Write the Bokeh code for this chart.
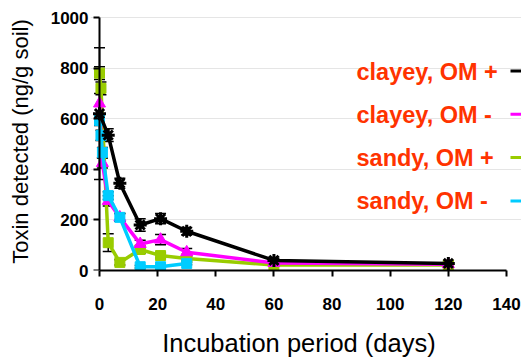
from bokeh.plotting import figure
from bokeh.models import (Range1d, Label, FixedTicker, ColumnDataSource, Whisker,
                          TeeHead, LinearAxis)
from bokeh.embed import file_html
from bokeh.resources import INLINE

# ---------------- data ----------------
clayey_om_plus_days = [0, 3, 7, 14, 21, 30, 60, 120]
clayey_om_plus_toxin = [620, 535, 345, 180, 205, 155, 40, 28]
clayey_om_plus_err = [260, 25, 20, 25, 20, 15, 8, 5]

clayey_om_minus_days = [0, 1, 3, 7, 14, 21, 30, 60, 120]
clayey_om_minus_toxin = [660, 425, 275, 210, 105, 122, 72, 30, 25]
clayey_om_minus_err = [40, 20, 20, 15, 15, 20, 15, 8, 5]

sandy_om_plus_days = [0, 0.5, 3, 7, 14, 21, 30, 60, 120]
sandy_om_plus_toxin = [780, 720, 110, 32, 83, 59, 47, 22, 22]
sandy_om_plus_err = [25, 25, 35, 10, 15, 10, 8, 5, 5]

sandy_om_minus_days = [0, 0.5, 1, 3, 7, 14, 21, 30]
sandy_om_minus_toxin = [593, 534, 466, 296, 210, 15, 15, 28]
sandy_om_minus_err = [20, 20, 20, 15, 15, 5, 5, 5]

legend_labels = ["clayey, OM +", "clayey, OM -", "sandy, OM +", "sandy, OM -"]
x_title = "Incubation period (days)"
y_title = "Toxin detected (ng/g soil)"
x_ticks = [0, 20, 40, 60, 80, 100, 120, 140]
y_ticks = [0, 200, 400, 600, 800, 1000]

# ---------------- layout constants ----------------
W, H = 521, 360
AXIS_PX = 99                  # pixel column of the y axis (day 0)
FRAME_LEFT = 90               # frame starts a little left so day-0 marks are whole
FRAME_TOP = 12
TOP_PX = 17                   # pixel row of toxin = 1000
BOTTOM_BORDER = 90
X_MAX_AXIS = 140
Y_MAX_AXIS = 1000
X_PX = 407 / 140.0            # pixels per day
X_START = -(AXIS_PX - FRAME_LEFT) / X_PX
X_END = (W - AXIS_PX) / X_PX
FRAME_BOTTOM_PX = H - BOTTOM_BORDER
Y_PX = (FRAME_BOTTOM_PX - TOP_PX) / float(Y_MAX_AXIS)
Y_END = (FRAME_BOTTOM_PX - FRAME_TOP) / Y_PX
NBSP = "\u00a0"

def px2x(px):
    return (px - AXIS_PX) / X_PX

def py2y(py):
    return (FRAME_BOTTOM_PX - py) / Y_PX

FONT = "Liberation Sans"
LEG_COLOR = "#FF3300"

p = figure(width=W, height=H, output_backend="svg", toolbar_location=None,
           x_range=Range1d(X_START, X_END), y_range=Range1d(0, Y_END),
           y_axis_location=None,
           min_border_left=FRAME_LEFT, min_border_right=0, min_border_top=FRAME_TOP,
           min_border_bottom=BOTTOM_BORDER)
p.outline_line_color = None
p.xgrid.visible = False
p.background_fill_color = "white"
p.border_fill_color = "white"

def style_axis(ax):
    ax.axis_line_width = 2
    ax.axis_line_color = "black"
    ax.major_tick_line_width = 2
    ax.major_tick_line_color = "black"
    ax.major_tick_in = 0
    ax.major_tick_out = 6
    ax.minor_tick_line_color = None
    ax.major_label_text_font = FONT
    ax.major_label_text_font_style = "bold"
    ax.major_label_text_font_size = "17px"
    ax.major_label_text_color = "black"
    ax.axis_label_text_font = FONT
    ax.axis_label_text_font_style = "normal"
    ax.axis_label_text_color = "black"

# x axis (title padded on the right so it sits centred under the axis line)
style_axis(p.xaxis[0])
p.xaxis.ticker = FixedTicker(ticks=x_ticks)
p.xaxis.bounds = (0, X_MAX_AXIS)
p.xaxis.major_label_standoff = 21
p.xaxis.axis_label = x_title + NBSP * 2
p.xaxis.axis_label_text_font_size = "25.5px"
p.xaxis.axis_label_standoff = 16

# y axis rule + tick marks at day 0 (tick marks drawn as minor ticks -> no labels)
y_rule = LinearAxis(ticker=FixedTicker(ticks=[], minor_ticks=y_ticks),
                    bounds=(0, Y_MAX_AXIS), fixed_location=0)
style_axis(y_rule)
y_rule.minor_tick_line_color = "black"
y_rule.minor_tick_line_width = 2
y_rule.minor_tick_in = 0
y_rule.minor_tick_out = 6
y_rule.major_label_standoff = 0
p.add_layout(y_rule, "left")

# y tick labels + title (no rule)
y_lab = LinearAxis(ticker=FixedTicker(ticks=y_ticks), bounds=(0, Y_MAX_AXIS),
                   axis_label=y_title)
style_axis(y_lab)
y_lab.axis_line_color = None
y_lab.major_tick_line_color = None
y_lab.major_tick_out = 0
y_lab.major_label_standoff = 2
y_lab.axis_label_text_font_size = "22px"
y_lab.axis_label_standoff = 15
p.add_layout(y_lab, "left")

series = [
    (sandy_om_plus_days, sandy_om_plus_toxin, sandy_om_plus_err, "#99CC00", "square"),
    (clayey_om_minus_days, clayey_om_minus_toxin, clayey_om_minus_err, "#FF00FF", "triangle"),
    (sandy_om_minus_days, sandy_om_minus_toxin, sandy_om_minus_err, "#00CCFF", "square"),
    (clayey_om_plus_days, clayey_om_plus_toxin, clayey_om_plus_err, "#000000", "asterisk"),
]

for xs, ys, es, col, mk in series:
    src = ColumnDataSource(dict(x=xs, y=ys,
                                lo=[v - e for v, e in zip(ys, es)],
                                hi=[v + e for v, e in zip(ys, es)]))
    w = Whisker(source=src, base="x", lower="lo", upper="hi",
                line_color="black", line_width=1.5,
                upper_head=TeeHead(size=11, line_color="black", line_width=1.5),
                lower_head=TeeHead(size=11, line_color="black", line_width=1.5))
    p.add_layout(w)
    p.line("x", "y", source=src, line_color=col, line_width=3.5)
    if mk == "asterisk":
        p.scatter("x", "y", source=src, marker="asterisk", size=13,
                  line_color=col, line_width=3)
    elif mk == "triangle":
        p.scatter("x", "y", source=src, marker="triangle", size=12,
                  fill_color=col, line_color=col)
    else:
        p.scatter("x", "y", source=src, marker="square", size=10,
                  fill_color=col, line_color=col)

# ---------------- legend (text left, sample line right) ----------------
leg_colors = ["#000000", "#FF00FF", "#99CC00", "#00CCFF"]
LEG_TEXT_X = 356
LEG_BASE_Y0 = 71
LEG_STEP = 43.3
for i, (lab, col) in enumerate(zip(legend_labels, leg_colors)):
    base = LEG_BASE_Y0 + i * LEG_STEP
    p.add_layout(Label(x=px2x(LEG_TEXT_X), y=py2y(base), text=lab,
                       text_font=FONT, text_font_style="bold",
                       text_font_size="23.5px", text_color=LEG_COLOR,
                       text_baseline="alphabetic", text_align="left"))
    yl = py2y(base - 0.5)
    p.segment(x0=[px2x(510)], y0=[yl], x1=[px2x(530)], y1=[yl],
              line_color=col, line_width=3)

open("out.html", "w").write(file_html(p, INLINE))
